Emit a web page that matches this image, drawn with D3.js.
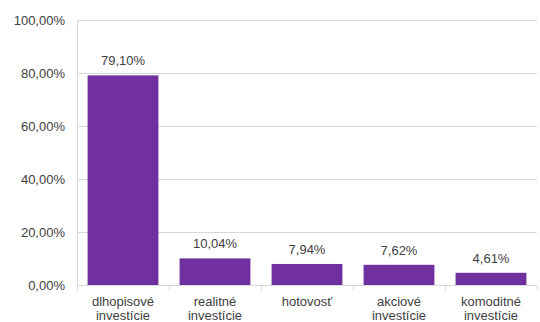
<!DOCTYPE html>
<html><head><meta charset="utf-8">
<script src="https://cdn.jsdelivr.net/npm/d3@7"></script>
<style>body{margin:0;background:#fff}svg{display:block}text{font-family:"Liberation Sans",Arial,sans-serif;}</style>
</head><body><svg id="c" width="540" height="322"></svg>
<script>
const categories = [["dlhopisové","investície"],["realitné","investície"],["hotovosť"],["akciové","investície"],["komoditné","investície"]];
const values = [79.10, 10.04, 7.94, 7.62, 4.61];
const valueLabels = ["79,10%","10,04%","7,94%","7,62%","4,61%"];
const yTicks = [0,20,40,60,80,100];
const yTickLabels = ["0,00%","20,00%","40,00%","60,00%","80,00%","100,00%"];

const svg = d3.select("#c");
const W = 540, H = 322;
const m = {l:77, r:3, t:20, b:37};
const x = d3.scaleBand().domain(d3.range(values.length)).range([m.l, W-m.r]).paddingInner(0.23).paddingOuter(0.115);
const y = d3.scaleLinear().domain([0,100]).range([H-m.b, m.t]);
const px = v => Math.round(v)+0.5;

// gridlines
svg.append("g").selectAll("line").data(yTicks.slice(1)).join("line")
  .attr("x1", m.l).attr("x2", W-m.r).attr("y1", d=>px(y(d))).attr("y2", d=>px(y(d)))
  .attr("stroke","#d9d9d9").attr("stroke-width",1);
// y axis line
svg.append("line").attr("x1",px(m.l)).attr("x2",px(m.l)).attr("y1",y(100)).attr("y2",y(0)+5)
  .attr("stroke","#d9d9d9");
// y tick labels
svg.append("g").selectAll("text").data(yTicks).join("text")
  .attr("x", m.l-12).attr("y", d=>y(d)+5).attr("text-anchor","end")
  .attr("font-size",13).attr("fill","#404040").text((d,i)=>yTickLabels[i]);
// bars
svg.append("g").selectAll("rect").data(values).join("rect")
  .attr("x",(d,i)=>x(i)).attr("width",x.bandwidth())
  .attr("y",d=>y(d)).attr("height",d=>y(0)-y(d)).attr("fill","#7030A0");
// x axis line
const y0 = px(y(0));
svg.append("line").attr("x1",m.l).attr("x2",W-m.r).attr("y1",y0).attr("y2",y0).attr("stroke","#d9d9d9");
// category ticks
const bounds = d3.range(values.length+1).map(i=>m.l + i*(W-m.r-m.l)/values.length);
svg.append("g").selectAll("line").data(bounds).join("line")
  .attr("x1",d=>px(d)).attr("x2",d=>px(d)).attr("y1",y0).attr("y2",y0+5).attr("stroke","#d9d9d9");
// value labels
svg.append("g").selectAll("text").data(values).join("text")
  .attr("x",(d,i)=>x(i)+x.bandwidth()/2).attr("y",d=>y(d)-10).attr("text-anchor","middle")
  .attr("font-size",13).attr("fill","#404040").text((d,i)=>valueLabels[i]);
// category labels
const cl = svg.append("g").selectAll("text").data(categories).join("text")
  .attr("x",(d,i)=>x(i)+x.bandwidth()/2).attr("y",y0+20.5).attr("text-anchor","middle")
  .attr("font-size",13).attr("fill","#404040");
cl.selectAll("tspan").data(d=>d).join("tspan")
  .attr("x",function(){return this.parentNode.getAttribute("x");})
  .attr("dy",(d,i)=>i===0?0:13.5).text(d=>d);
</script></body></html>
